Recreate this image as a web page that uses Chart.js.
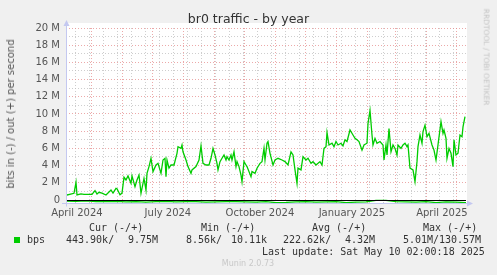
<!DOCTYPE html>
<html>
<head>
<meta charset="utf-8">
<script src="https://cdn.jsdelivr.net/npm/chart.js@4/dist/chart.umd.min.js"></script>
<style>
  body { margin: 0; background: #f0f0f0; }
  #wrap { position: relative; width: 497px; height: 275px; overflow: hidden; font-family: "DejaVu Sans", sans-serif; color: #555; }
  canvas { position: absolute; left: 0; top: 0; }
  .t { position: absolute; white-space: pre; line-height: 1; }
  .mono { font-family: "DejaVu Sans Mono", monospace; font-size: 10px; color: #333; }
</style>
</head>
<body>
<div id="wrap">
  <canvas id="chart" width="497" height="275"></canvas>
  <div class="t" id="title" style="left:248.5px; top:12.5px; font-size:12.5px; color:#333; transform:translateX(-50%)">br0 traffic - by year</div>
  <div class="t" style="left:11px; top:114px; font-size:10px; transform:translate(-50%,-50%) rotate(-90deg)">bits in (-) / out (+) per second</div>
  <div class="t" style="left:486px; top:57px; font-size:7.5px; color:#c4c4c4; transform:translate(-50%,-50%) rotate(90deg)">RRDTOOL / TOBI OETIKER</div>

  <div class="t mono" style="left:89px; top:223px">Cur (-/+)</div>
  <div class="t mono" style="left:201px; top:223px">Min (-/+)</div>
  <div class="t mono" style="left:312px; top:223px">Avg (-/+)</div>
  <div class="t mono" style="left:423px; top:223px">Max (-/+)</div>

  <div style="position:absolute; left:14px; top:237px; width:6px; height:6px; background:#00cc00"></div>
  <div class="t mono" style="left:27px; top:234.5px">bps</div>
  <div class="t mono" style="left:66px; top:234.5px">443.90k/</div>
  <div class="t mono" style="left:128px; top:234.5px">9.75M</div>
  <div class="t mono" style="left:186px; top:234.5px">8.56k/</div>
  <div class="t mono" style="left:231px; top:234.5px">10.11k</div>
  <div class="t mono" style="left:283px; top:234.5px">222.62k/</div>
  <div class="t mono" style="left:345px; top:234.5px">4.32M</div>
  <div class="t mono" style="left:403px; top:234.5px">5.01M/</div>
  <div class="t mono" style="left:439px; top:234.5px">130.57M</div>

  <div class="t mono" style="left:262px; top:246.5px">Last update: Sat May 10 02:00:18 2025</div>
  <div class="t" style="left:248px; top:259.5px; font-size:8px; color:#c8c8c8; transform:translateX(-50%)">Munin 2.0.73</div>
</div>
<script>
// out (+) traffic, Mbit/s, by day since the graph start (400 days before last update)
const outDays = [1, 8, 10, 11, 15, 18, 26, 29, 31, 33, 36, 40, 45, 47, 50, 51, 54, 56, 58, 60,
  62, 65, 66, 69, 71, 73, 75, 78, 80, 81, 83, 85, 87, 90, 92, 95, 97, 99, 100, 101,
  103, 105, 108, 111, 112, 115, 116, 117, 120, 122, 125, 126, 130, 133, 135, 137, 140, 143, 145, 147,
  149, 151, 152, 154, 156, 158, 160, 161, 163, 165, 166, 168, 170, 171, 173, 175, 176, 178, 180, 181,
  185, 186, 189, 191, 194, 196, 198, 199, 201, 202, 204, 207, 209, 212, 216, 219, 222, 225, 227, 229,
  231, 232, 235, 237, 240, 242, 245, 247, 250, 252, 254, 256, 258, 260, 261, 263, 266, 268, 270, 272,
  275, 277, 279, 281, 284, 287, 289, 291, 293, 296, 298, 301, 302, 304, 306, 307, 309, 311, 314, 317,
  318, 320, 321, 323, 325, 327, 329, 331, 332, 335, 337, 339, 341, 342, 344, 347, 349, 351, 352, 354,
  356, 357, 359, 361, 363, 366, 368, 370, 372, 375, 377, 378, 380, 381, 383, 385, 387, 388, 390, 392,
  394, 396, 397, 399];
const outMbps = [0.58, 0.78, 2.06, 0.58, 0.70, 0.65, 0.66, 1.08, 0.70, 0.90, 0.80, 0.58, 1.16, 0.80, 1.36, 1.30, 0.60, 0.80, 2.64, 2.33,
  2.80, 1.94, 2.80, 1.55, 2.33, 2.90, 0.78, 2.50, 1.16, 3.10, 3.88, 4.85, 3.30, 4.07, 4.26, 3.10, 4.65, 4.85, 2.70, 4.65,
  3.70, 4.07, 4.07, 5.43, 6.20, 6.00, 6.40, 5.60, 4.65, 3.88, 3.10, 3.50, 3.88, 4.65, 6.30, 4.26, 4.07, 4.07, 4.85, 6.00,
  5.23, 4.26, 3.50, 4.46, 4.85, 5.23, 4.65, 5.04, 4.65, 5.23, 4.65, 5.60, 3.88, 4.46, 3.88, 2.90, 2.13, 4.46, 4.07, 3.88,
  2.70, 3.30, 3.10, 3.70, 4.26, 4.46, 6.00, 4.65, 6.60, 6.80, 5.43, 4.07, 4.65, 4.85, 4.65, 4.46, 4.07, 5.60, 5.23, 3.50,
  1.94, 3.70, 3.50, 5.04, 4.65, 4.85, 4.26, 4.46, 4.07, 4.26, 4.46, 4.07, 6.00, 6.20, 7.83, 6.40, 6.60, 6.20, 6.80, 6.40,
  6.60, 6.30, 7.00, 6.80, 8.14, 7.56, 7.17, 7.00, 6.80, 5.80, 6.40, 6.60, 8.90, 10.40, 7.56, 6.40, 7.17, 6.60, 6.80, 6.40,
  4.65, 6.40, 5.23, 8.30, 5.60, 6.40, 6.00, 5.23, 6.40, 6.00, 6.40, 6.60, 6.20, 6.40, 3.70, 3.50, 2.13, 4.46, 6.20, 7.56,
  6.60, 7.95, 8.70, 7.36, 7.75, 6.40, 5.80, 4.65, 6.40, 9.10, 7.75, 8.14, 7.17, 4.85, 6.00, 5.43, 3.88, 7.00, 5.23, 5.43,
  7.56, 7.36, 8.50, 9.70];

// in (-) traffic, Mbit/s, drawn below zero
const inDays = [0, 10, 20, 30, 40, 50, 60, 70, 80, 90, 100, 110, 120, 130, 140, 150, 160, 170, 180, 190,
  200, 210, 220, 230, 240, 250, 260, 270, 280, 290, 300, 310, 320, 330, 340, 350, 360, 370, 380, 390, 400];
const inMbps = [-0.12, -0.15, -0.10, -0.18, -0.20, -0.15, -0.22, -0.18, -0.25, -0.20, -0.15, -0.22, -0.20, -0.18, -0.25, -0.22, -0.20, -0.18, -0.22, -0.25,
  -0.20, -0.30, -0.28, -0.22, -0.20, -0.25, -0.22, -0.20, -0.30, -0.25, -0.22, -0.05, -0.05, -0.20, -0.22, -0.25, -0.20, -0.30, -0.22, -0.25, -0.30];

const yTickValues = [0, 2, 4, 6, 8, 10, 12, 14, 16, 18, 20];
const yTickLabels = ["0", "2 M", "4 M", "6 M", "8 M", "10 M", "12 M", "14 M", "16 M", "18 M", "20 M"];
const xLabels = ["April 2024", "July 2024", "October 2024", "January 2025", "April 2025"];
const xLabelMonths = [[2024, 3], [2024, 6], [2024, 9], [2025, 0], [2025, 3]];

const startMs = Date.UTC(2024, 3, 5, 2, 0, 18);
const DAY = 86400000;
const dayOf = (y, m, d) => (Date.UTC(y, m, d) - startMs) / DAY;

// grid: month starts (red) and every second Monday (grey)
const majorDays = [];
for (let i = 0; i < 14; i++) {
  const d = dayOf(2024, 3 + i, 1);
  if (d >= 0 && d <= 400) majorDays.push(d);
}
const minorDays = [];
for (let d = dayOf(2024, 3, 15); d <= 400; d += 14) minorDays.push(d);
const gridDays = minorDays.concat(majorDays).sort((a, b) => a - b);
const labelDays = xLabelMonths.map(([y, m]) => dayOf(y, m, 1) + 15);
const yGrid = [];
for (let v = 0; v <= 20; v++) yGrid.push(v);

const RED = "rgba(230,140,140,0.75)";
const GREY = "rgba(190,190,190,0.75)";
const AXIS = "#c4c8f0";

const frame = {
  id: "frame",
  beforeDraw(chart) {
    const { ctx, chartArea: a } = chart;
    ctx.save();
    ctx.fillStyle = "#fff";
    ctx.fillRect(a.left, a.top - 5, a.right - a.left + 1, a.bottom - a.top + 5);
    ctx.restore();
  },
  afterDatasetsDraw(chart) {
    const { ctx, chartArea: a, scales } = chart;
    const y0 = Math.round(scales.y.getPixelForValue(0)) + 0.5;
    ctx.save();
    ctx.strokeStyle = "#000";
    ctx.lineWidth = 1;
    ctx.beginPath();
    ctx.moveTo(a.left, y0);
    ctx.lineTo(a.right, y0);
    ctx.stroke();

    const xl = Math.round(a.left) + 0.5;
    const yb = Math.round(a.bottom) + 0.5;
    ctx.strokeStyle = AXIS;
    ctx.fillStyle = AXIS;
    ctx.beginPath();
    ctx.moveTo(xl, yb + 3);
    ctx.lineTo(xl, a.top - 4);
    ctx.moveTo(a.left - 4, yb);
    ctx.lineTo(a.right + 4, yb);
    ctx.stroke();
    ctx.beginPath();
    ctx.moveTo(xl, a.top - 8);
    ctx.lineTo(xl - 3, a.top - 2);
    ctx.lineTo(xl + 3, a.top - 2);
    ctx.closePath();
    ctx.fill();
    ctx.beginPath();
    ctx.moveTo(a.right + 7, yb);
    ctx.lineTo(a.right + 1, yb - 3);
    ctx.lineTo(a.right + 1, yb + 3);
    ctx.closePath();
    ctx.fill();
    ctx.restore();
  }
};

const isMajor = v => majorDays.some(d => Math.abs(d - v) < 1e-6);

new Chart(document.getElementById("chart"), {
  type: "line",
  data: {
    datasets: [
      {
        data: outDays.map((d, i) => ({ x: d, y: outMbps[i] })),
        borderColor: "#00cc00", borderWidth: 1.3, pointRadius: 0, tension: 0,
        xAxisID: "x", yAxisID: "y"
      },
      {
        data: inDays.map((d, i) => ({ x: d, y: inMbps[i] })),
        borderColor: "#00cc00", borderWidth: 1.3, pointRadius: 0, tension: 0,
        xAxisID: "x", yAxisID: "y"
      }
    ]
  },
  options: {
    responsive: false,
    animation: false,
    layout: { padding: { left: 0, top: 28, right: 31, bottom: 0 } },
    plugins: { legend: { display: false }, tooltip: { enabled: false } },
    scales: {
      x: {
        type: "linear", position: "bottom", min: 0, max: 400,
        afterBuildTicks: s => { s.ticks = gridDays.map(v => ({ value: v })); },
        afterFit: s => { s.height = 0; },
        ticks: { display: false, autoSkip: false },
        grid: { drawTicks: false, lineWidth: 1, color: c => isMajor(c.tick.value) ? RED : GREY },
        border: { display: false, dash: [1, 2] }
      },
      xLab: {
        type: "linear", position: "bottom", min: 0, max: 400,
        afterBuildTicks: s => { s.ticks = labelDays.map(v => ({ value: v })); },
        afterFit: s => { s.height = 72; },
        ticks: {
          autoSkip: false, maxRotation: 0, padding: 4, color: "#555",
          font: { family: "DejaVu Sans", size: 10 },
          callback: (v, i) => xLabels[i]
        },
        grid: { display: false, drawTicks: false },
        border: { display: false }
      },
      y: {
        min: -0.35, max: 20,
        afterBuildTicks: s => { s.ticks = yGrid.map(v => ({ value: v })); },
        afterFit: s => { s.width = 66; },
        ticks: {
          autoSkip: false, padding: 6, color: "#555",
          font: { family: "DejaVu Sans", size: 10 },
          callback: v => { const i = yTickValues.indexOf(v); return i >= 0 ? yTickLabels[i] : ""; }
        },
        grid: {
          drawTicks: false, lineWidth: 1,
          color: c => c.tick.value === 0 ? "rgba(0,0,0,0)" : (c.tick.value % 2 === 0 ? RED : GREY)
        },
        border: { display: false, dash: [1, 2] }
      }
    }
  },
  plugins: [frame]
});
</script>
</body>
</html>
